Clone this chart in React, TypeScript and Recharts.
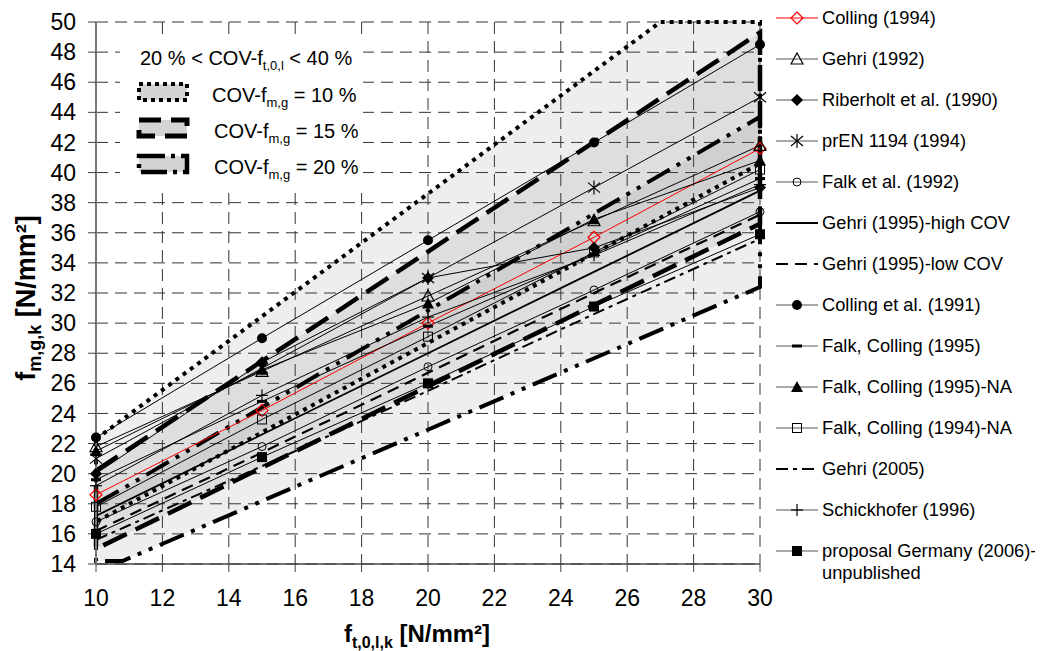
import React from "react";
import { ComposedChart, Line, Area, XAxis, YAxis, CartesianGrid } from "recharts";

// x positions of the studies
const xValues = [10, 15, 20, 25, 30];

const colling1994 = [18.6, 24.2, 30.0, 35.7, 41.6];
const gehri1992 = [21.8, 26.8, 31.8, 36.8, 41.8];
const riberholt1990 = [20.0, 27.4, 33.0, 35.0, 39.0];
const prEN1194 = [21.0, 27.0, 33.0, 39.0, 45.0];
const falk1992 = [16.8, 21.8, 27.1, 32.2, 37.4];
const gehri1995High = [17.2, 22.6, 28.0, 33.4, 38.8];
const gehri1995Low = [16.2, 21.4, 26.7, 32.0, 37.2];
const colling1991 = [22.4, 29.0, 35.5, 42.0, 48.5];
const falkColling1995 = [19.6, 24.8, 29.8, 34.6, 39.6];
const falkColling1995NA = [21.5, 26.9, 31.3, 36.9, 40.8];
const falkColling1994NA = [17.8, 23.6, 29.1, 34.7, 40.2];
const gehri2005 = [15.6, 20.5, 25.5, 30.6, 35.6];
const schickhofer1996 = [19.2, 25.2, 30.4, 34.5, 39.2];
const proposalGermany = [16.0, 21.1, 26.0, 31.1, 35.9];

// COV bands (20 % < COV-ft,0,l < 40 %)
const cov10X = [10, 27.0, 30];
const cov10Low = [16.8, 37.0, 40.6];
const cov10High = [22.3, 50.0, 50.0];
const cov15X = [10, 30];
const cov15Low = [15.0, 36.6];
const cov15High = [20.2, 49.3];
const cov20X = [10, 10.8, 30];
const cov20Low = [14.2, 14.2, 32.4];
const cov20High = [18.0, 19.0, 43.7];

const xTicks = [10, 12, 14, 16, 18, 20, 22, 24, 26, 28, 30];
const yTicks = [14, 16, 18, 20, 22, 24, 26, 28, 30, 32, 34, 36, 38, 40, 42, 44, 46, 48, 50];

const FONT = "'Liberation Sans', Arial, sans-serif";

type Kind =
  | "diamondOpen" | "triangleOpen" | "diamondFilled" | "asterisk" | "circleOpen"
  | "none" | "circleFilled" | "dash" | "triangleFilled" | "squareOpen" | "plus" | "squareFilled";

const series: {
  key: string; name: string; values: number[]; color: string;
  marker: Kind; width: number; dash?: string;
}[] = [
  { key: "colling1994", name: "Colling (1994)", values: colling1994, color: "#ff0000", marker: "diamondOpen", width: 1 },
  { key: "gehri1992", name: "Gehri (1992)", values: gehri1992, color: "#000", marker: "triangleOpen", width: 1 },
  { key: "riberholt1990", name: "Riberholt et al. (1990)", values: riberholt1990, color: "#000", marker: "diamondFilled", width: 1 },
  { key: "prEN1194", name: "prEN 1194 (1994)", values: prEN1194, color: "#000", marker: "asterisk", width: 1 },
  { key: "falk1992", name: "Falk et al. (1992)", values: falk1992, color: "#000", marker: "circleOpen", width: 1 },
  { key: "gehri1995High", name: "Gehri (1995)-high COV", values: gehri1995High, color: "#000", marker: "none", width: 1.8 },
  { key: "gehri1995Low", name: "Gehri (1995)-low COV", values: gehri1995Low, color: "#000", marker: "none", width: 2.2, dash: "12 7" },
  { key: "colling1991", name: "Colling et al. (1991)", values: colling1991, color: "#000", marker: "circleFilled", width: 1 },
  { key: "falkColling1995", name: "Falk, Colling (1995)", values: falkColling1995, color: "#000", marker: "dash", width: 1 },
  { key: "falkColling1995NA", name: "Falk, Colling (1995)-NA", values: falkColling1995NA, color: "#000", marker: "triangleFilled", width: 1 },
  { key: "falkColling1994NA", name: "Falk, Colling (1994)-NA", values: falkColling1994NA, color: "#000", marker: "squareOpen", width: 1 },
  { key: "gehri2005", name: "Gehri (2005)", values: gehri2005, color: "#000", marker: "none", width: 2, dash: "12 5 4 5" },
  { key: "schickhofer1996", name: "Schickhofer (1996)", values: schickhofer1996, color: "#000", marker: "plus", width: 1 },
  { key: "proposalGermany", name: "proposal Germany (2006)-unpublished", values: proposalGermany, color: "#000", marker: "squareFilled", width: 1 },
];

const rows = xValues.map((x, i) => {
  const row: Record<string, number> = { x };
  series.forEach((s) => { row[s.key] = s.values[i]; });
  return row;
});

function bandArea(xs: number[], lo: number[], hi: number[]) {
  return xs.map((x, i) => ({ x, r: [lo[i], hi[i]] }));
}
function bandBorder(xs: number[], lo: number[], hi: number[]) {
  const up = xs.map((x, i) => ({ x, y: hi[i] }));
  const down = xs.map((x, i) => ({ x, y: lo[i] })).reverse();
  return [...up, ...down, up[0]];
}

const bands = [
  { id: "cov10", area: bandArea(cov10X, cov10Low, cov10High), border: bandBorder(cov10X, cov10Low, cov10High), width: 4, dash: "4 5" },
  { id: "cov15", area: bandArea(cov15X, cov15Low, cov15High), border: bandBorder(cov15X, cov15Low, cov15High), width: 4.5, dash: "26 10" },
  { id: "cov20", area: bandArea(cov20X, cov20Low, cov20High), border: bandBorder(cov20X, cov20Low, cov20High), width: 4, dash: "26 8 4 8 4 8" },
];

function Marker({ kind, cx, cy, color }: { kind: Kind; cx: number; cy: number; color: string }) {
  if (cx == null || cy == null) return <g />;
  switch (kind) {
    case "diamondOpen":
      return <polygon points={`${cx},${cy - 6} ${cx + 6},${cy} ${cx},${cy + 6} ${cx - 6},${cy}`} fill="none" stroke={color} strokeWidth={1.2} />;
    case "diamondFilled":
      return <polygon points={`${cx},${cy - 6} ${cx + 6},${cy} ${cx},${cy + 6} ${cx - 6},${cy}`} fill={color} />;
    case "triangleOpen":
      return <polygon points={`${cx},${cy - 6} ${cx + 6},${cy + 5} ${cx - 6},${cy + 5}`} fill="none" stroke={color} strokeWidth={1.2} />;
    case "triangleFilled":
      return <polygon points={`${cx},${cy - 6} ${cx + 6},${cy + 5} ${cx - 6},${cy + 5}`} fill={color} />;
    case "asterisk":
      return (
        <g stroke={color} strokeWidth={1.2}>
          <line x1={cx} y1={cy - 7} x2={cx} y2={cy + 7} />
          <line x1={cx - 6} y1={cy - 5} x2={cx + 6} y2={cy + 5} />
          <line x1={cx - 6} y1={cy + 5} x2={cx + 6} y2={cy - 5} />
        </g>
      );
    case "circleOpen":
      return <circle cx={cx} cy={cy} r={4} fill="none" stroke={color} strokeWidth={1} />;
    case "circleFilled":
      return <circle cx={cx} cy={cy} r={5} fill={color} />;
    case "dash":
      return <rect x={cx - 5} y={cy - 1.5} width={10} height={3} fill={color} />;
    case "squareOpen":
      return <rect x={cx - 4.5} y={cy - 4.5} width={9} height={9} fill="none" stroke={color} strokeWidth={1} />;
    case "squareFilled":
      return <rect x={cx - 5} y={cy - 5} width={10} height={10} fill={color} />;
    case "plus":
      return (
        <g stroke={color} strokeWidth={1.2}>
          <line x1={cx} y1={cy - 6} x2={cx} y2={cy + 6} />
          <line x1={cx - 6} y1={cy} x2={cx + 6} y2={cy} />
        </g>
      );
    default:
      return <g />;
  }
}

const makeDot = (kind: Kind, color: string) => (p: any) => (
  <Marker key={`m-${p.index}`} kind={kind} cx={p.cx} cy={p.cy} color={color} />
);

function InsetAndTitles() {
  return (
    <svg width={1035} height={643} style={{ position: "absolute", left: 0, top: 0, pointerEvents: "none" }} fontFamily={FONT}>
      <rect x={112} y={30} width={243} height={152} fill="#fff" />
      <text x={132} y={57} fontSize={20} fill="#000">
        20 % &lt; COV-f<tspan fontSize={13} dy={5}>t,0,l</tspan><tspan dy={-5}> &lt; 40 %</tspan>
      </text>
      <rect x={131} y={76} width={48} height={16} fill="#d4d4d4" stroke="#000" strokeWidth={4} strokeDasharray="4 4" />
      <text x={204} y={94} fontSize={20} fill="#000">
        COV-f<tspan fontSize={13} dy={5}>m,g</tspan><tspan dy={-5}> = 10 %</tspan>
      </text>
      <rect x={131} y={112} width={48} height={16} fill="#d4d4d4" stroke="#000" strokeWidth={5} strokeDasharray="22 10" />
      <text x={206} y={130} fontSize={20} fill="#000">
        COV-f<tspan fontSize={13} dy={5}>m,g</tspan><tspan dy={-5}> = 15 %</tspan>
      </text>
      <rect x={131} y={148} width={48} height={16} fill="#d4d4d4" stroke="#000" strokeWidth={4.5} strokeDasharray="26 6 4 6" />
      <text x={206} y={166} fontSize={20} fill="#000">
        COV-f<tspan fontSize={13} dy={5}>m,g</tspan><tspan dy={-5}> = 20 %</tspan>
      </text>

      <text x={409} y={634} fontSize={24} fontWeight="bold" textAnchor="middle" fill="#000">
        f<tspan fontSize={16} dy={6}>t,0,l,k</tspan><tspan dy={-6}> [N/mm²]</tspan>
      </text>
      <text transform="translate(27,290) rotate(-90)" fontSize={27} fontWeight="bold" textAnchor="middle" fill="#000">
        f<tspan fontSize={18} dy={6}>m,g,k</tspan><tspan dy={-6}> [N/mm²]</tspan>
      </text>
    </svg>
  );
}

function LegendSymbol({ s }: { s: (typeof series)[number] }) {
  const lineOnly = s.marker === "none";
  return (
    <svg width={42} height={22} style={{ position: "absolute", left: 0, top: 0 }}>
      <line
        x1={0} y1={11} x2={42} y2={11}
        stroke={s.color === "#000" ? (lineOnly ? "#000" : "#555") : s.color}
        strokeWidth={lineOnly ? s.width : 1}
        strokeDasharray={s.dash}
      />
      <Marker kind={s.marker} cx={21} cy={11} color={s.color} />
    </svg>
  );
}

function SideLegend() {
  return (
    <div style={{ position: "absolute", left: 768, top: -1, width: 267, fontFamily: FONT, fontSize: 18.3, color: "#000" }}>
      {series.map((s, i) => (
        <div key={s.key} style={{ position: "absolute", top: 41 * i, left: 0, width: 267, lineHeight: "22px" }}>
          <LegendSymbol s={s} />
          <div style={{ marginLeft: 46, width: 221 }}>{s.name}</div>
        </div>
      ))}
    </div>
  );
}

export default function App() {
  const tickStyle = { fill: "#000", fontSize: 23, fontFamily: FONT };
  return (
    <div style={{ position: "relative", width: 1035, height: 643, fontFamily: FONT }}>
      <ComposedChart width={1035} height={643} data={rows} margin={{ top: 14, right: 283, bottom: 0, left: 0 }}>
        <CartesianGrid stroke="#333" strokeDasharray="12 7" />
        <XAxis
          type="number" dataKey="x" domain={[10, 30]} ticks={xTicks} height={87} interval={0}
          tick={tickStyle} tickSize={8} tickMargin={18}
          axisLine={{ stroke: "#444", strokeWidth: 1.5 }} tickLine={{ stroke: "#444" }}
        />
        <YAxis
          type="number" domain={[14, 50]} ticks={yTicks} width={88} interval={0}
          tick={tickStyle} tickSize={8} tickMargin={12}
          axisLine={{ stroke: "#777", strokeWidth: 2 }} tickLine={{ stroke: "#444" }}
        />
        {bands.map((b) => (
          <Area
            key={`a-${b.id}`} data={b.area} dataKey="r" type="linear"
            stroke="none" fill="#555" fillOpacity={0.1} isAnimationActive={false}
          />
        ))}
        {bands.map((b) => (
          <Line
            key={`b-${b.id}`} data={b.border} dataKey="y" type="linear"
            stroke="#000" strokeWidth={b.width} strokeDasharray={b.dash}
            dot={false} activeDot={false} isAnimationActive={false}
          />
        ))}
        {series.map((s) => (
          <Line
            key={s.key} dataKey={s.key} type="linear"
            stroke={s.color} strokeWidth={s.width} strokeDasharray={s.dash}
            dot={s.marker === "none" ? false : makeDot(s.marker, s.color)}
            activeDot={false} isAnimationActive={false}
          />
        ))}
      </ComposedChart>
      <InsetAndTitles />
      <SideLegend />
    </div>
  );
}
